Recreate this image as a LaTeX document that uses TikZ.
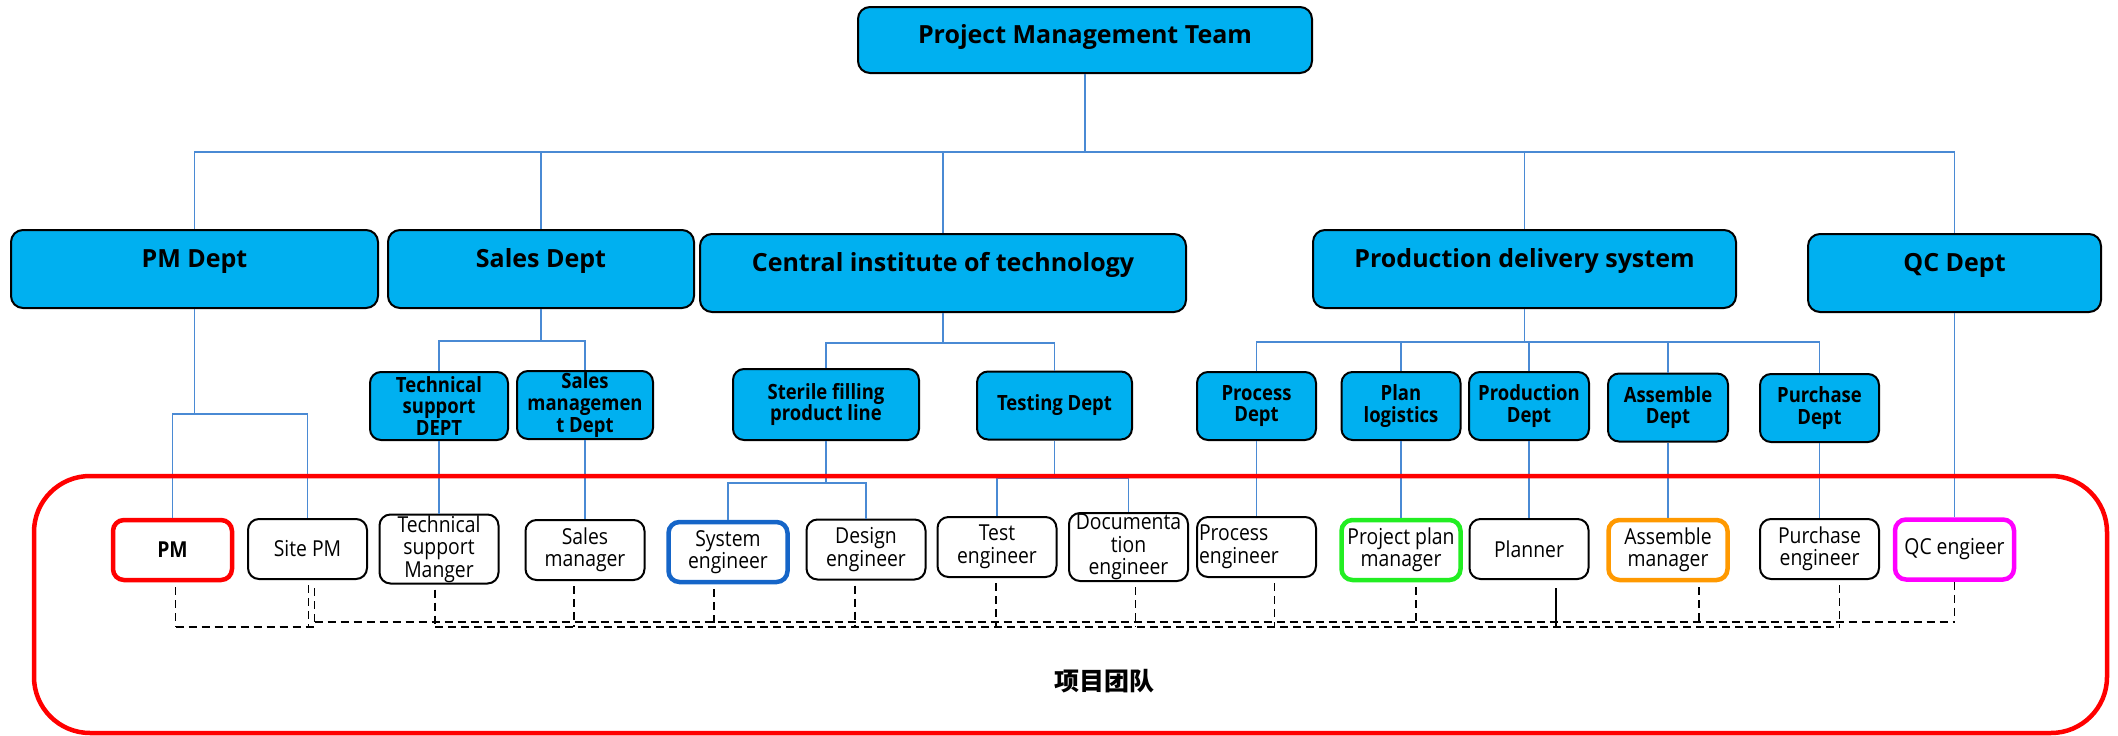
\documentclass[tikz,border=0pt]{standalone}
\usepackage{fontspec}
\setmainfont{Open Sans}
\newfontfamily\staffface{Open Sans}[FakeStretch=0.88]
\newfontfamily\cjk{Noto Sans CJK SC}

\definecolor{deptfill}{HTML}{00B0F0}
\definecolor{linkblue}{HTML}{4A8AD4}
\definecolor{sysblue}{HTML}{1565C8}
\definecolor{planlime}{HTML}{22EE22}
\definecolor{asmorange}{HTML}{FF9900}
\definecolor{qcpink}{HTML}{FF00FF}

\tikzset{
  teambox/.style={draw=black, line width=2pt, fill=deptfill, rounded corners=12pt,
    inner xsep=2pt, inner ysep=0pt, font=\bfseries\fontsize{25}{28}\selectfont},
  headbox/.style={teambox, text height=36pt, text depth=30pt, minimum width=454pt},
  deptbox/.style={teambox, text height=37pt, text depth=41pt},
  unitbox/.style={draw=black, line width=2pt, fill=deptfill, rounded corners=11pt,
    align=center, minimum width=119pt, minimum height=68pt, inner sep=1pt,
    font=\staffface\bfseries\fontsize{21}{21.7}\selectfont},
  staffbox/.style={draw=black, line width=2pt, fill=white, rounded corners=11pt,
    align=center, minimum width=119pt, minimum height=60pt, inner sep=1pt,
    font=\staffface\fontsize{22}{22.5}\selectfont},
  keyrole/.style={line width=4.5pt},
  link/.style={draw=linkblue, line width=1.5pt},
  team/.style={draw=black, line width=1.8pt, dash pattern=on 8pt off 5pt},
}

\begin{document}
\begin{tikzpicture}[x=1pt,y=-1pt]
  \useasboundingbox (0,0) rectangle (2118,736);

  % top
  \node[headbox] (pmt) at (1085,40) {Project Management Team};

  % departments
  \node[deptbox, minimum width=367pt] (pmdept) at (194.5,269) {PM Dept};
  \node[deptbox, minimum width=306pt] (salesdept) at (541,269) {Sales Dept};
  \node[deptbox, minimum width=486pt] (cit) at (943,273) {Central institute of technology};
  \node[deptbox, minimum width=423pt] (pds) at (1524.5,269) {Production delivery system};
  \node[deptbox, minimum width=293pt] (qcdept) at (1954.5,273) {QC Dept};

  % units
  \node[unitbox, minimum width=138pt] (tsdept) at (439,406) {Technical\\support\\DEPT};
  \node[unitbox, minimum width=136pt] (smdept) at (585,405) {Sales\\managemen\\t Dept};
  \node[unitbox, minimum width=186pt, minimum height=71pt] (sterile) at (826,404.5) {Sterile filling\\product line};
  \node[unitbox, minimum width=155pt] (testing) at (1054.5,405.5) {Testing Dept};
  \node[unitbox] (procdept) at (1256.5,406) {Process\\Dept};
  \node[unitbox] (plandept) at (1401,406) {Plan\\logistics};
  \node[unitbox, minimum width=120pt] (proddept) at (1529,406) {Production\\Dept};
  \node[unitbox, minimum width=120pt] (asmdept) at (1668,407.5) {Assemble\\Dept};
  \node[unitbox] (purdept) at (1819.5,408) {Purchase\\Dept};

  % staff
  \node[staffbox, keyrole, draw=red, font=\staffface\bfseries\fontsize{22}{22.5}\selectfont] (pm) at (172.5,550) {PM};
  \node[staffbox] (sitepm) at (307.5,549) {Site PM};
  \node[staffbox] (tsm) at (439,549) {Technical\\support\\Manger};
  \node[staffbox] (salesmgr) at (585,550) {Sales\\manager};
  \node[staffbox, keyrole, draw=sysblue] (syseng) at (728,552) {System\\engineer};
  \node[staffbox] (designeng) at (866,549.5) {Design\\engineer};
  \node[staffbox] (testeng) at (997,547) {Test\\engineer};
  \node[staffbox] (doceng) at (1128.5,547) {Documenta\\tion\\engineer};
  \node[staffbox, text width=115pt, align=left] (proceng) at (1256.5,547) {Process\\engineer};
  \node[staffbox, keyrole, draw=planlime] (planmgr) at (1401,550) {Project plan\\manager};
  \node[staffbox] (planner) at (1529,549) {Planner};
  \node[staffbox, keyrole, draw=asmorange] (asmmgr) at (1668,550) {Assemble\\manager};
  \node[staffbox] (pureng) at (1819.5,549) {Purchase\\engineer};
  \node[staffbox, keyrole, draw=qcpink] (qceng) at (1954.5,549.5) {QC engieer};

  % reporting lines
  \coordinate (topbus) at (1085,152);
  \draw[link] (pmt.south) -- (topbus);
  \draw[link] (pmdept.north) |- (topbus) -| (qcdept.north);
  \foreach \d in {salesdept,cit,pds}
    \draw[link] (\d.north) -- (\d.north |- topbus);

  \draw[link] (pmdept.south) -- ++(0,105) coordinate (pmbus);
  \draw[link] (pm.north) |- (pmbus) -| (sitepm.north);

  \draw[link] (salesdept.south) -- ++(0,32) coordinate (salesbus);
  \draw[link] (tsdept.north) |- (salesbus) -| (smdept.north);
  \draw[link] (tsdept.south) -- (tsm.north);
  \draw[link] (smdept.south) -- (salesmgr.north);

  \draw[link] (cit.south) -- ++(0,30) coordinate (citbus);
  \draw[link] (sterile.north) |- (citbus) -| (testing.north);
  \draw[link] (sterile.south) -- ++(0,42) coordinate (sterbus);
  \draw[link] (syseng.north) |- (sterbus) -| (designeng.north);
  \draw[link] (testing.south) -- ++(0,38) coordinate (testbus);
  \draw[link] (testeng.north) |- (testbus) -| (doceng.north);

  \draw[link] (pds.south) -- ++(0,33) coordinate (pdsbus);
  \draw[link] (procdept.north) |- (pdsbus) -| (purdept.north);
  \foreach \d in {plandept,proddept,asmdept}
    \draw[link] (\d.north) -- (\d.north |- pdsbus);
  \foreach \u/\s in {procdept/proceng, plandept/planmgr, proddept/planner, asmdept/asmmgr, purdept/pureng}
    \draw[link] (\u.south) -- (\s.north);

  \draw[link] (qcdept.south) -- (qceng.north);

  % project team
  \node[draw=red, line width=4.5pt, rounded corners=56pt, minimum width=2073pt, minimum height=257pt] (teamframe) at (1070.5,604.5) {};
  \node[font=\cjk\bfseries\fontsize{25}{28}\selectfont] (teamname) at (1104,681) {项目团队};

  \coordinate (lowbus) at (0,627);
  \coordinate (highbus) at (0,622);
  \foreach \s/\dx in {pm/3, sitepm/1, tsm/-4, salesmgr/-11, syseng/-14, designeng/-11, testeng/-1, doceng/7, proceng/18, planmgr/15, asmmgr/31, pureng/20}
    \draw[team] ([xshift=\dx pt]\s.south) ++(0,5) -- ([xshift=\dx pt]\s.south |- lowbus);
  \draw[line width=1.8pt] ([xshift=27pt]planner.south) ++(0,8) -- ([xshift=27pt]planner.south |- lowbus);
  \draw[team] ([xshift=7pt]sitepm.south) ++(0,8) -- ([xshift=7pt]sitepm.south |- highbus);
  \draw[team] (qceng.south) -- (qceng.south |- highbus);
  \draw[team] ([xshift=3pt]pm.south |- lowbus) -- ([xshift=7pt]sitepm.south |- lowbus);
  \draw[team] ([xshift=-4pt]tsm.south |- lowbus) -- ([xshift=20pt]pureng.south |- lowbus);
  \draw[team] ([xshift=7pt]sitepm.south |- highbus) -- (qceng.south |- highbus);
\end{tikzpicture}
\end{document}
